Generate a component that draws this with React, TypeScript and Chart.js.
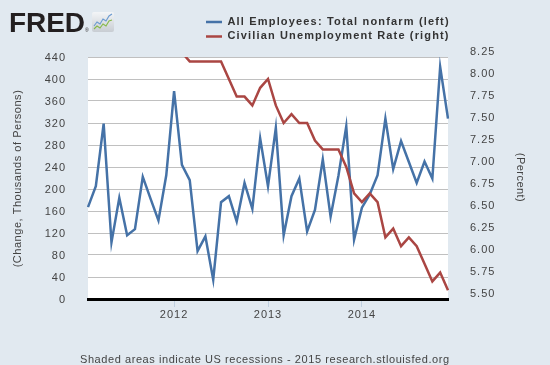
import React, { useEffect, useRef } from 'react';
import { Chart, registerables } from 'chart.js';

Chart.register(...registerables);

// ---------- data ----------
const months = [
  '2011-02', '2011-03', '2011-04', '2011-05', '2011-06', '2011-07', '2011-08', '2011-09', '2011-10', '2011-11', '2011-12',
  '2012-01', '2012-02', '2012-03', '2012-04', '2012-05', '2012-06', '2012-07', '2012-08', '2012-09', '2012-10', '2012-11', '2012-12',
  '2013-01', '2013-02', '2013-03', '2013-04', '2013-05', '2013-06', '2013-07', '2013-08', '2013-09', '2013-10', '2013-11', '2013-12',
  '2014-01', '2014-02', '2014-03', '2014-04', '2014-05', '2014-06', '2014-07', '2014-08', '2014-09', '2014-10', '2014-11', '2014-12',
];

// All Employees: Total nonfarm, change (thousands of persons)
const payrollChange = [
  167, 205, 319, 103, 184, 116, 127, 222, 182, 143, 225,
  378, 244, 216, 87, 114, 35, 176, 187, 141, 211, 164, 292,
  205, 311, 116, 187, 219, 123, 162, 254, 150, 224, 314, 108,
  166, 190, 225, 328, 236, 287, 249, 211, 250, 219, 422, 328,
];

// Civilian Unemployment Rate (percent)
const unemploymentRate = [
  8.9, 8.9, 9.0, 9.0, 9.1, 9.0, 9.0, 9.0, 8.8, 8.6, 8.5,
  8.3, 8.3, 8.2, 8.2, 8.2, 8.2, 8.2, 8.0, 7.8, 7.8, 7.7, 7.9,
  8.0, 7.7, 7.5, 7.6, 7.5, 7.5, 7.3, 7.2, 7.2, 7.2, 7.0, 6.7,
  6.6, 6.7, 6.6, 6.2, 6.3, 6.1, 6.2, 6.1, 5.9, 5.7, 5.8, 5.6,
];

const seriesNames = ['All Employees: Total nonfarm (left)', 'Civilian Unemployment Rate (right)'];
const leftAxisTitle = '(Change, Thousands of Persons)';
const rightAxisTitle = '(Percent)';
const footerText = 'Shaded areas indicate US recessions - 2015 research.stlouisfed.org';

const BLUE = '#4572a7';
const RED = '#aa4643';
const BG = '#e1e9f0';
const FONT = '"Liberation Sans", Arial, Helvetica, sans-serif';

function spacedText(ctx: CanvasRenderingContext2D, text: string, x: number, y: number, target: number) {
  (ctx as any).letterSpacing = '0px';
  const w = ctx.measureText(text).width;
  const n = Array.from(text).length;
  const s = n > 1 ? (target - w) / (n - 1) : 0;
  (ctx as any).letterSpacing = s.toFixed(2) + 'px';
  ctx.fillText(text, x, y);
  (ctx as any).letterSpacing = '0px';
}

const decorPlugin = {
  id: 'fredDecor',
  beforeUpdate(chart: any) {
    chart.ctx.letterSpacing = '1px';
  },
  beforeDraw(chart: any) {
    const { ctx, chartArea: a, width, height } = chart;
    ctx.save();
    ctx.fillStyle = BG;
    ctx.fillRect(0, 0, width, height);
    ctx.fillStyle = '#ffffff';
    ctx.fillRect(a.left, a.top, a.right - a.left, a.bottom - a.top);
    ctx.restore();
    ctx.letterSpacing = '1px';
  },
  afterDraw(chart: any) {
    const ctx: CanvasRenderingContext2D = chart.ctx;
    ctx.save();

    // FRED logo
    ctx.fillStyle = '#231f20';
    ctx.textAlign = 'left';
    ctx.textBaseline = 'alphabetic';
    ctx.font = `bold 28px ${FONT}`;
    spacedText(ctx, 'FRED', 9, 32, 76);
    ctx.font = `5px ${FONT}`;
    ctx.fillText('®', 85, 32);

    // logo icon
    const g = ctx.createLinearGradient(0, 12, 0, 32);
    g.addColorStop(0, '#f3f5f7');
    g.addColorStop(1, '#c8cdd3');
    ctx.fillStyle = g;
    ctx.beginPath();
    (ctx as any).roundRect(92, 12, 22, 20, 2);
    ctx.fill();
    ctx.lineWidth = 1.1;
    ctx.strokeStyle = '#6a9ad0';
    ctx.beginPath();
    [[94, 26], [97, 22], [100, 24], [103, 19], [106, 21], [109, 16], [112, 14]].forEach(([x, y], i) =>
      i ? ctx.lineTo(x, y) : ctx.moveTo(x, y));
    ctx.stroke();
    ctx.strokeStyle = '#86b94a';
    ctx.beginPath();
    [[94, 29], [97, 26], [100, 28], [103, 24], [106, 26], [109, 21], [112, 20]].forEach(([x, y], i) =>
      i ? ctx.lineTo(x, y) : ctx.moveTo(x, y));
    ctx.stroke();

    // legend
    const colors = [BLUE, RED];
    const rowsY = [22, 36.5];
    const baseY = [24.6, 39.3];
    ctx.font = `bold 11px ${FONT}`;
    ctx.fillStyle = '#333333';
    seriesNames.forEach((name, i) => {
      ctx.strokeStyle = colors[i];
      ctx.lineWidth = 2.5;
      ctx.beginPath();
      ctx.moveTo(206, rowsY[i]);
      ctx.lineTo(222, rowsY[i]);
      ctx.stroke();
      spacedText(ctx, name, 227.5, baseY[i], 221);
    });

    // axis titles
    ctx.font = `11px ${FONT}`;
    ctx.fillStyle = '#444444';
    ctx.textAlign = 'center';
    ctx.textBaseline = 'middle';
    ctx.save();
    ctx.translate(18, 178.5);
    ctx.rotate(-Math.PI / 2);
    spacedText(ctx, leftAxisTitle, 0, 0, 177);
    ctx.restore();
    ctx.save();
    ctx.translate(520, 177.5);
    ctx.rotate(Math.PI / 2);
    spacedText(ctx, rightAxisTitle, 0, 0, 49);
    ctx.restore();

    // footer
    ctx.textAlign = 'left';
    ctx.textBaseline = 'alphabetic';
    spacedText(ctx, footerText, 80, 363, 369);

    ctx.restore();
    (ctx as any).letterSpacing = '1px';
  },
};

const isYearStart = (i: number) => !!months[i] && months[i].endsWith('-01');

export default function App() {
  const canvasRef = useRef<HTMLCanvasElement | null>(null);

  useEffect(() => {
    const canvas = canvasRef.current;
    if (!canvas) return;
    Chart.defaults.font.family = FONT;
    const chart = new Chart(canvas, {
      type: 'line',
      data: {
        labels: months,
        datasets: [
          {
            label: seriesNames[0],
            data: payrollChange,
            borderColor: BLUE,
            backgroundColor: BLUE,
            borderWidth: 2.5,
            pointRadius: 0,
            tension: 0,
            yAxisID: 'y',
            order: 1,
          },
          {
            label: seriesNames[1],
            data: unemploymentRate,
            borderColor: RED,
            backgroundColor: RED,
            borderWidth: 2.5,
            pointRadius: 0,
            tension: 0,
            yAxisID: 'y1',
            order: 0,
          },
        ],
      },
      options: {
        responsive: false,
        animation: false,
        events: [],
        layout: { padding: { top: 57, bottom: 36, left: 0, right: 0 } },
        plugins: {
          legend: { display: false },
          tooltip: { enabled: false },
          title: { display: false },
        },
        scales: {
          x: {
            type: 'category',
            offset: false,
            grid: {
              drawOnChartArea: false,
              drawTicks: true,
              tickLength: 8,
              offset: false,
              color: (c: any) => (isYearStart(c.index) ? '#c0d0e0' : 'rgba(0,0,0,0)'),
              tickColor: (c: any) => (isYearStart(c.index) ? '#c0d0e0' : 'rgba(0,0,0,0)'),
            },
            border: { display: true, color: '#000000', width: 3 },
            ticks: {
              autoSkip: false,
              maxRotation: 0,
              minRotation: 0,
              padding: 1,
              color: '#444444',
              font: { size: 11 },
              callback: (_v: any, i: number) => (isYearStart(i) ? months[i].slice(0, 4) : ''),
            },
            afterFit: (s: any) => { s.height = 30; },
          },
          y: {
            type: 'linear',
            position: 'left',
            min: 0,
            max: 440,
            grid: { color: '#c0c0c0', lineWidth: 1, drawTicks: false },
            border: { display: false },
            ticks: {
              stepSize: 40,
              padding: 22,
              labelOffset: 1,
              color: '#444444',
              font: { size: 11 },
            },
            afterFit: (s: any) => { s.width = 88; },
          },
          y1: {
            type: 'linear',
            position: 'right',
            min: 5.5,
            max: 8.25,
            grid: { drawOnChartArea: false, drawTicks: false },
            border: { display: false },
            ticks: {
              stepSize: 0.25,
              padding: 22,
              labelOffset: -5,
              color: '#444444',
              font: { size: 11 },
              callback: (v: any) => Number(v).toFixed(2),
            },
            afterFit: (s: any) => { s.width = 102; },
          },
        },
      },
      plugins: [decorPlugin],
    } as any);
    return () => chart.destroy();
  }, []);

  return (
    <div style={{ position: 'absolute', left: 0, top: 0, width: 550, height: 365, background: BG }}>
      <canvas ref={canvasRef} width={550} height={365} style={{ display: 'block' }} />
    </div>
  );
}
